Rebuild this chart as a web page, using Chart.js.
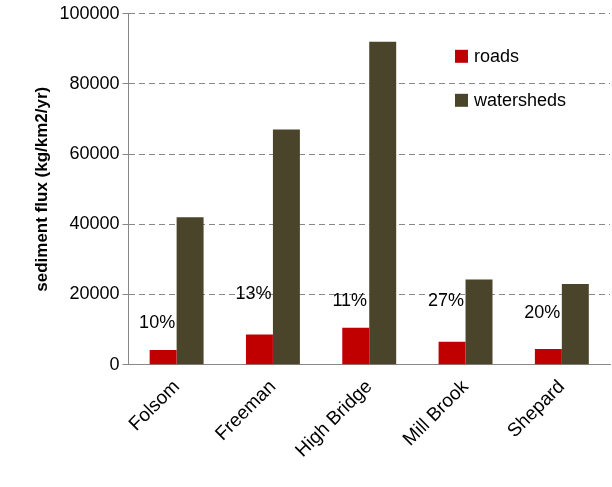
<!DOCTYPE html>
<html><head>
<script src="https://cdn.jsdelivr.net/npm/chart.js@4"></script>
<style>body{margin:0;background:#fff}#wrap{width:612px;height:487px}</style>
</head><body><div id="wrap"><canvas id="c"></canvas></div>
<script>
const sites = ["Folsom", "Freeman", "High Bridge", "Mill Brook", "Shepard"];
const roads = [4200, 8600, 10500, 6500, 4500];
const watersheds = [42000, 67000, 92000, 24300, 23000];
const pctLabels = ["10%", "13%", "11%", "27%", "20%"];
const pctHeights = [11800, 20200, 18200, 18200, 14700];
const seriesColors = ["#c00000", "#4a452a"];
const font = "'Liberation Sans', Arial, sans-serif";

const pctPlugin = {
  id: "pct",
  afterDatasetsDraw(chart) {
    const ctx = chart.ctx;
    const meta = chart.getDatasetMeta(0);
    const y = chart.scales.y;
    ctx.save();
    ctx.font = "18px " + font;
    ctx.fillStyle = "#000";
    ctx.textAlign = "center";
    ctx.textBaseline = "middle";
    meta.data.forEach((bar, i) => {
      ctx.fillText(pctLabels[i], bar.x - 6, y.getPixelForValue(pctHeights[i]));
    });
    // legend inside plot, upper right
    const area = chart.chartArea;
    const lx = area.right - 155, ly = area.top + 43;
    ctx.textAlign = "left";
    chart.data.datasets.forEach((ds, i) => {
      ctx.fillStyle = seriesColors[i];
      ctx.fillRect(lx, ly + i * 44 - 7, 13, 13);
      ctx.fillStyle = "#000";
      ctx.fillText(ds.label, lx + 19, ly + i * 44);
    });
    ctx.restore();
  }
};

new Chart(document.getElementById("c"), {
  type: "bar",
  data: {
    labels: sites,
    datasets: [
      { label: "roads", data: roads, backgroundColor: seriesColors[0], categoryPercentage: 0.56, barPercentage: 1 },
      { label: "watersheds", data: watersheds, backgroundColor: seriesColors[1], categoryPercentage: 0.56, barPercentage: 1 }
    ]
  },
  options: {
    responsive: true, maintainAspectRatio: false, animation: false,
    layout: { padding: { top: 13, right: 2, left: 28, bottom: 22 } },
    plugins: { legend: { display: false }, tooltip: { enabled: false } },
    scales: {
      x: {
        grid: { display: false },
        border: { color: "#888" },
        ticks: { color: "#000", font: { size: 19, family: font }, maxRotation: 45, minRotation: 45 }
      },
      y: {
        min: 0, max: 100000,
        ticks: { stepSize: 20000, color: "#000", font: { size: 18, family: font }, callback: v => String(v) },
        grid: { color: "#888", tickLength: 6 },
        border: { color: "#888", dash: [6, 4] },
        title: { display: true, text: "sediment flux (kg/km2/yr)", color: "#000", font: { size: 17, weight: "bold", family: font } }
      }
    }
  },
  plugins: [pctPlugin]
});
</script></body></html>
